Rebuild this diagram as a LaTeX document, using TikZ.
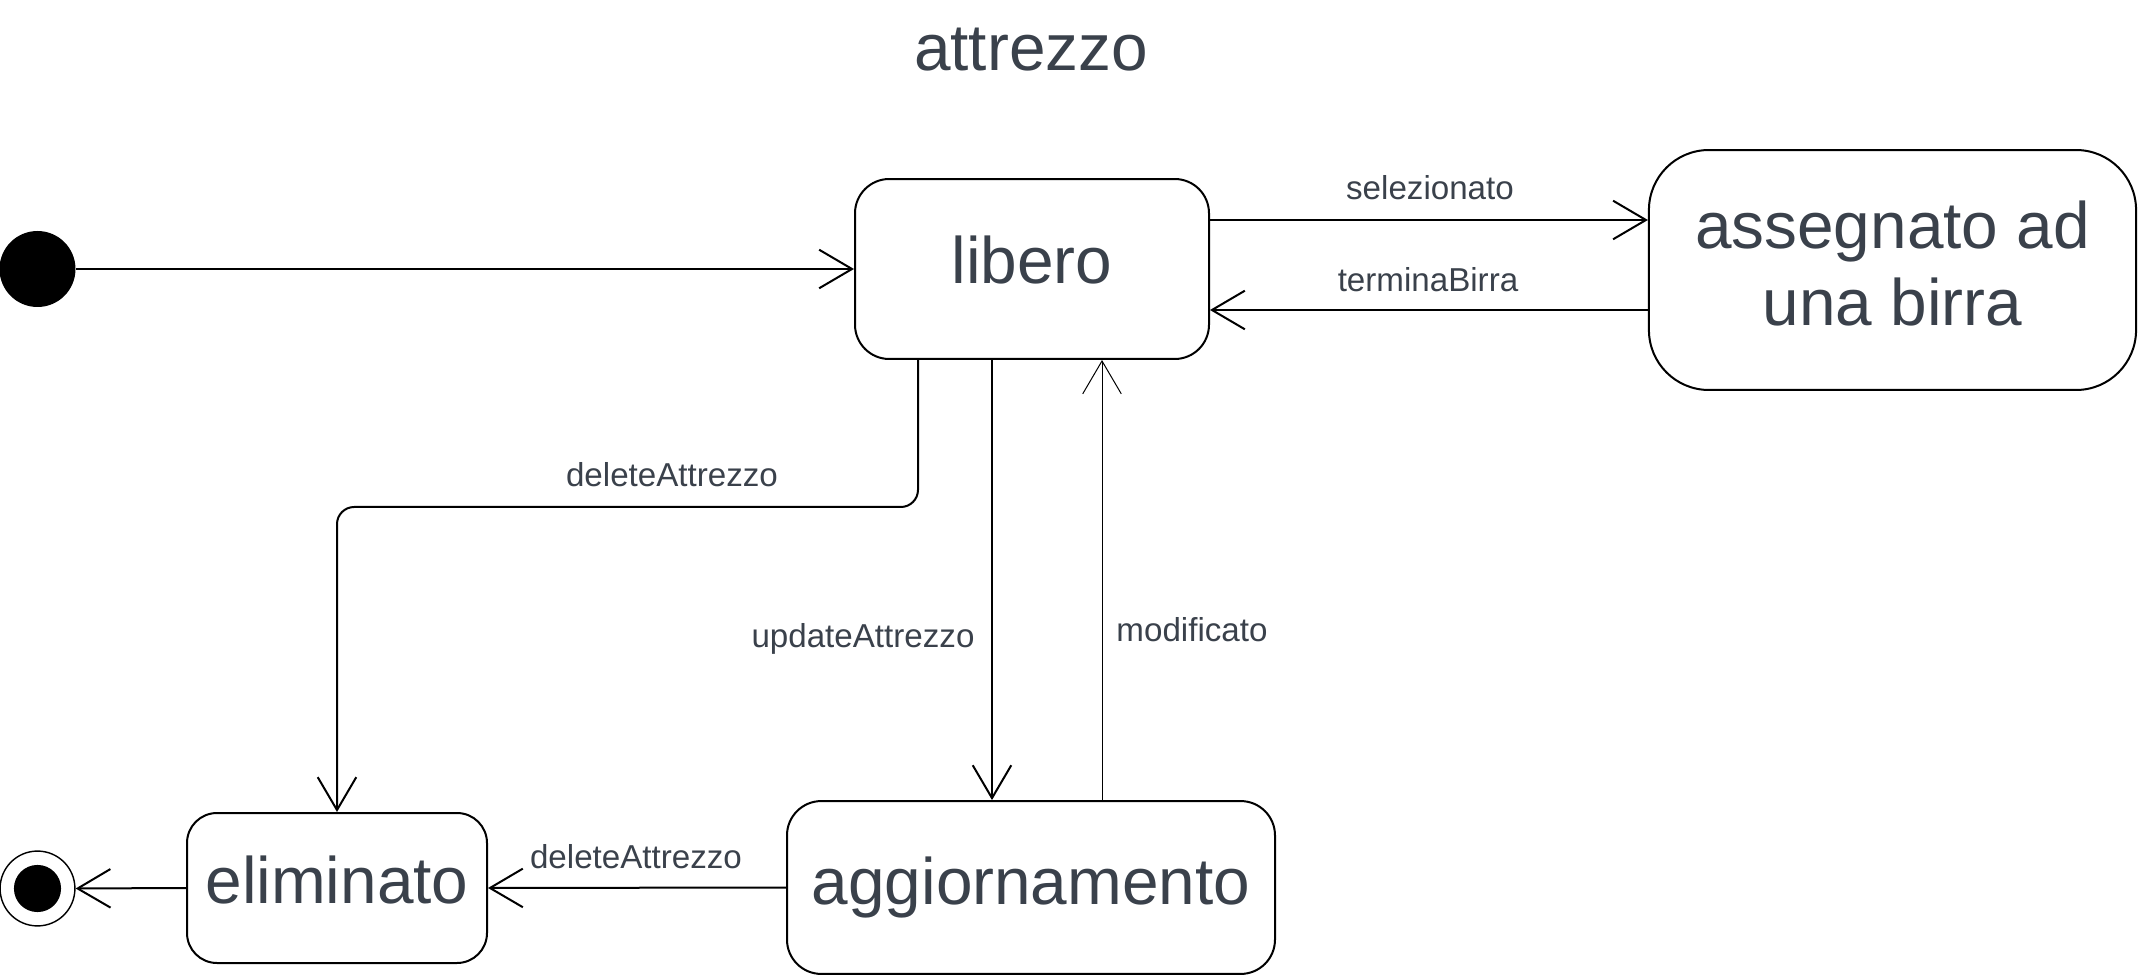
\documentclass[tikz,border=0pt]{standalone}
\usepackage{fontspec}
\setmainfont{Liberation Sans}
\usepackage{xcolor}
\usetikzlibrary{arrows.meta, calc}
\definecolor{labelgray}{RGB}{58,65,75}

\begin{document}
\begin{tikzpicture}[x=0.35pt, y=-0.35pt, >={Straight Barb[length=11.5pt,width=13.5pt]},
                    line width=0.7pt, text=labelgray]
\tikzstyle{state}=[shape=rectangle, draw=black, line width=0.7pt,
                    inner sep=0pt, align=center, font=\fontsize{23}{27}\selectfont]
\tikzstyle{trans}=[anchor=base, font=\fontsize{11.6}{14}\selectfont]
  \useasboundingbox (0,0) rectangle (2139,975);
  \node[anchor=base, font=\fontsize{23}{27}\selectfont] (title) at (1031,71) {attrezzo};
  % states
  \node[state, rounded corners=12pt, text depth=6.3pt, minimum width=123.9pt, minimum height=63pt] (libero) at (1032,269) {libero};
  \node[state, rounded corners=21pt, text depth=4.9pt, minimum width=170.5pt, minimum height=84pt] (assegnato) at (1892.5,270) {assegnato ad\\una birra};
  \node[state, rounded corners=10.5pt, text depth=6pt, minimum width=105pt, minimum height=52.5pt] (eliminato) at (337,888) {eliminato};
  \node[state, rounded corners=12pt, minimum width=170.8pt, minimum height=60.5pt] (aggiornamento) at (1031,887.5) {aggiornamento};
  \node[circle, fill=black, inner sep=0pt, minimum size=26.6pt] (start) at (37.5,269) {};
  \node[circle, draw=black, line width=0.5pt, inner sep=0pt, minimum size=26.2pt] (end) at (37.5,888.5) {};
  \node[circle, fill=black, inner sep=0pt, minimum size=16.5pt] (endin) at (end) {};
  % transitions
  \coordinate (sel) at ($(libero.east)+(0,-49)$);
  \coordinate (term) at ($(assegnato.west)+(0,40)$);
  \coordinate (del) at ($(libero.south)+(-114,0)$);
  \coordinate (upd) at ($(libero.south)+(-40,0)$);
  \coordinate (mod) at ($(aggiornamento.north)+(71,0)$);
  \draw[->] (start) -- (libero);
  \draw[->] (sel) -- (sel -| assegnato.west);
  \draw[->] (term) -- (term -| libero.east);
  \draw[->, rounded corners=6pt] (del) -- ++(0,147) -| (eliminato.north);
  \draw[->] (upd) -- (upd |- aggiornamento.north);
  \draw[->, line width=0.35pt] (mod) -- (mod |- libero.south);
  \draw[->] (aggiornamento.west) -- (eliminato.east);
  \draw[->] (eliminato.west) -- (end.east);
  % labels
  \node[trans] (lsel) at (1430,200) {selezionato};
  \node[trans] (lterm) at (1428,291) {terminaBirra};
  \node[trans] (ldel) at (672,487) {deleteAttrezzo};
  \node[trans] (lupd) at (863,647) {updateAttrezzo};
  \node[trans] (lmod) at (1192,641) {modificato};
  \node[trans] (ldel2) at (636,868) {deleteAttrezzo};
\end{tikzpicture}
\end{document}
